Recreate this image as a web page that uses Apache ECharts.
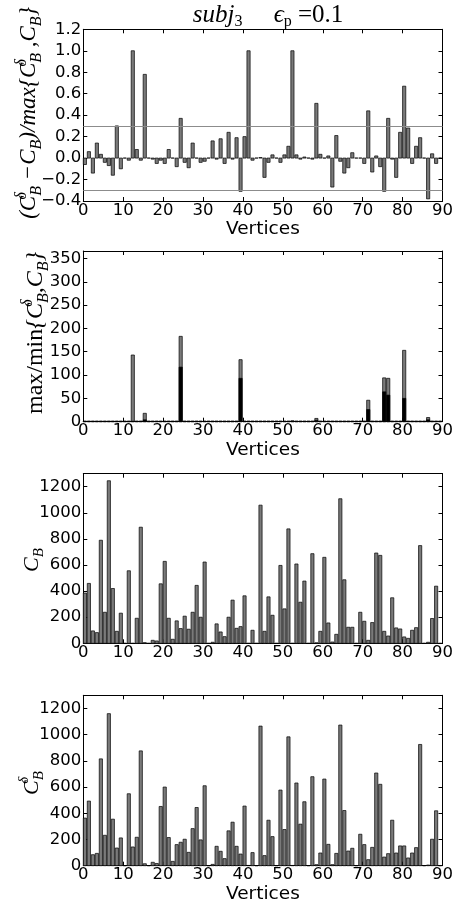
<!DOCTYPE html>
<html>
<head>
<meta charset="utf-8">
<script src="https://cdn.jsdelivr.net/npm/echarts@6/dist/echarts.min.js"></script>
<style>
html,body{margin:0;padding:0;background:#fff;}
#chart{width:469px;height:903px;}
</style>
</head>
<body>
<div id="chart"></div>
<script>
const vertices = [0,1,2,3,4,5,6,7,8,9,10,11,12,13,14,15,16,17,18,19,20,21,22,23,24,25,26,27,28,29,30,31,32,33,34,35,36,37,38,39,40,41,42,43,44,45,46,47,48,49,50,51,52,53,54,55,56,57,58,59,60,61,62,63,64,65,66,67,68,69,70,71,72,73,74,75,76,77,78,79,80,81,82,83,84,85,86,87,88,89];

const diffRatio = [
 -0.06, 0.06, -0.14, 0.14, 0.035, -0.04, -0.07, -0.16, 0.30, -0.10,
 0, -0.02, 1.0, 0.08, -0.02, 0.78, 0, -0.01, -0.05, -0.02,
 -0.05, 0.08, 0, -0.08, 0.37, -0.04, -0.09, 0.14, 0, -0.04,
 -0.03, 0, 0.16, -0.01, 0.18, -0.05, 0.24, -0.01, 0.19, -0.31,
 0.20, 1.0, -0.02, 0, 0.005, -0.18, -0.04, 0.03, 0, -0.04,
 0.03, 0.11, 1.0, 0.03, -0.01, 0.01, 0, -0.01, 0.51, 0.035,
 0, 0.02, -0.27, 0.21, -0.03, -0.14, -0.09, 0.05, 0, 0,
 -0.05, 0.44, -0.13, 0.02, -0.08, -0.31, 0.37, -0.01, -0.18, 0.24,
 0.67, 0.28, -0.05, 0.11, 0.19, 0, -0.38, 0.04, -0.05, 0
];
const thresholds = [0.3, -0.3];

const ratioMax = [
 1,1,1,1,1,1,1,1,1,1,
 1,1,143,1,1,18,1,1,1,1,
 1,1,1,1,183,1,1,1,1,1,
 1,1,1,1,1,1,1,1,1,133,
 1,1,1,1,1,1,1,1,1,1,
 1,1,2,1,1,1,1,1,7,1,
 1,1,1,1,1,1,1,1,1,1,
 1,46,1,1,1,94,93,1,1,1,
 153,1,1,1,1,1,9,1,1,1
];
const ratioMin = [
 1,1,1,1,1,1,1,1,1,1,
 1,1,1,1,1,4,1,1,1,1,
 1,1,1,1,117,1,1,1,1,1,
 1,1,1,1,1,1,1,1,1,93,
 1,1,1,1,1,1,1,1,1,1,
 1,1,1,1,1,1,1,1,3,1,
 1,1,1,1,1,1,1,1,1,1,
 1,26,1,1,1,64,57,1,1,1,
 50,1,1,1,1,1,4,1,1,1
];

const cb = [
 385,459,95,82,790,238,1246,420,92,231,
 0,556,0,192,890,5,0,23,18,456,
 628,192,31,172,113,208,108,238,444,200,
 623,0,8,149,87,51,200,331,115,128,
 364,0,100,0,1059,92,356,215,0,597,
 264,877,0,608,315,477,0,687,4,92,
 659,156,10,69,1108,487,123,123,0,238,
 169,23,159,692,674,92,56,349,118,110,
 49,38,100,120,749,0,8,190,438,0
];
const cbDelta = [
 363,493,84,94,815,232,1160,355,135,212,
 0,549,143,217,876,15,0,26,17,452,
 600,215,33,161,179,202,102,283,444,197,
 610,0,10,148,110,54,266,332,148,89,
 455,2,100,0,1065,77,347,222,0,577,
 276,983,2,631,317,488,0,679,8,97,
 661,163,8,94,1073,421,112,133,0,240,
 161,46,140,707,621,66,92,347,97,151,
 151,59,97,138,925,0,5,202,419,0
];

const BAR_W = 0.8;
const FONT = 'DejaVu Sans';
const SERIF = 'Liberation Serif, DejaVu Serif, serif';
const TICK_FS = 16.5;

const grids = [
  {left: 83.3, width: 359.2, top: 29.3, height: 171.7},
  {left: 83.3, width: 359.2, top: 251, height: 170.7},
  {left: 83.3, width: 359.2, top: 473.7, height: 169.6},
  {left: 83.3, width: 359.2, top: 695.3, height: 170.4}
];
const yRanges = [
  {min: -0.4, max: 1.2, interval: 0.2},
  {min: 0, max: 366, interval: 50},
  {min: 0, max: 1300, interval: 200},
  {min: 0, max: 1300, interval: 200}
];
const xNames = ['Vertices', 'Vertices', '', 'Vertices'];

function yFmt(k) {
  return function (v) {
    if (k === 0) {
      if (Math.abs(v) < 1e-9) return '0.0';
      return v.toFixed(1).replace('-', '\u2212');
    }
    if (Math.abs(v % yRanges[k].interval) > 1e-6) return '';
    return String(Math.round(v));
  };
}

const xAxes = [], yAxes = [];
grids.forEach((g, k) => {
  xAxes.push({
    type: 'value', gridIndex: k, min: 0, max: 90, interval: 10, position: 'bottom',
    name: xNames[k], nameLocation: 'middle', nameGap: 17,
    nameTextStyle: {fontFamily: FONT, fontSize: 18.5, color: '#000', verticalAlign: 'top'},
    axisLine: {show: true, onZero: false, lineStyle: {color: '#000', width: 1}},
    axisTick: {show: true, inside: true, length: 4, lineStyle: {color: '#000'}},
    axisLabel: {fontFamily: FONT, fontSize: TICK_FS, color: '#000', margin: 1},
    splitLine: {show: false}
  });
  xAxes.push({
    type: 'value', gridIndex: k, min: 0, max: 90, interval: 10, position: 'top',
    axisLine: {show: true, onZero: false, lineStyle: {color: '#000', width: 1}},
    axisTick: {show: true, inside: true, length: 4, lineStyle: {color: '#000'}},
    axisLabel: {show: false}, splitLine: {show: false}
  });
  const yr = yRanges[k];
  yAxes.push({
    type: 'value', gridIndex: k, min: yr.min, max: yr.max, interval: yr.interval, position: 'left',
    axisLine: {show: true, onZero: false, lineStyle: {color: '#000', width: 1}},
    axisTick: {show: true, inside: true, length: 4, lineStyle: {color: '#000'}},
    axisLabel: {fontFamily: FONT, fontSize: TICK_FS, color: '#000', margin: 2, formatter: yFmt(k)},
    splitLine: {show: false}
  });
  yAxes.push({
    type: 'value', gridIndex: k, min: yr.min, max: yr.max, interval: yr.interval, position: 'right',
    axisLine: {show: true, onZero: false, lineStyle: {color: '#000', width: 1}},
    axisTick: {show: true, inside: true, length: 4, lineStyle: {color: '#000'}},
    axisLabel: {show: false}, splitLine: {show: false}
  });
});

function barRender(fill) {
  return function (params, api) {
    const x = api.value(0), v = api.value(1);
    const p0 = api.coord([x, 0]);
    const p1 = api.coord([x + BAR_W, v]);
    return {
      type: 'rect',
      shape: {x: p0[0], y: Math.min(p0[1], p1[1]), width: p1[0] - p0[0], height: Math.abs(p1[1] - p0[1])},
      style: {fill: fill, stroke: '#000', lineWidth: 0.7}
    };
  };
}
function pairs(arr) { return vertices.map((v, i) => [v, arr[i]]); }

const GRAY = '#7a7a7a';
const series = [
  {type: 'custom', xAxisIndex: 0, yAxisIndex: 0, renderItem: barRender(GRAY), data: pairs(diffRatio),
   markLine: {silent: true, symbol: 'none', label: {show: false}, animation: false,
     lineStyle: {color: '#8c8c8c', width: 1, type: 'solid'},
     data: thresholds.map(t => ({yAxis: t}))}},
  {type: 'custom', xAxisIndex: 2, yAxisIndex: 2, renderItem: barRender(GRAY), data: pairs(ratioMax)},
  {type: 'custom', xAxisIndex: 2, yAxisIndex: 2, renderItem: barRender('#000'), data: pairs(ratioMin)},
  {type: 'custom', xAxisIndex: 4, yAxisIndex: 4, renderItem: barRender(GRAY), data: pairs(cb)},
  {type: 'custom', xAxisIndex: 6, yAxisIndex: 6, renderItem: barRender(GRAY), data: pairs(cbDelta)}
];

function richMath(fs) {
  const s = Math.round(fs * 0.68);
  const lh = Math.round(fs * 1.35);
  return {
    sup: {fontSize: s, lineHeight: Math.round(s * 0.8), verticalAlign: 'top', fontStyle: 'italic', fontFamily: SERIF, width: 0},
    sub: {fontSize: s, lineHeight: Math.round(s * 0.8), verticalAlign: 'bottom', fontStyle: 'italic', fontFamily: SERIF},
    r: {fontSize: fs, lineHeight: lh, fontStyle: 'normal', fontFamily: SERIF}
  };
}
function mathText(x, y, text, fs) {
  return {
    type: 'text', x: x, y: y, rotation: Math.PI / 2,
    style: {
      text: text, fontSize: fs, fontStyle: 'italic', fontFamily: SERIF, fill: '#000',
      align: 'center', verticalAlign: 'middle', textAlign: 'center', textVerticalAlign: 'middle',
      lineHeight: Math.round(fs * 1.35), rich: richMath(fs)
    }
  };
}

const graphic = [
  {
    type: 'text', x: 268, y: 15,
    style: {
      text: '{i|subj}{s|3}     {i|\u03f5}{s|p}{n| =0.1}',
      fontSize: 25, fontFamily: SERIF,
      fill: '#000', align: 'center', verticalAlign: 'middle', textAlign: 'center', textVerticalAlign: 'middle',
      rich: {
        i: {fontSize: 25, fontStyle: 'italic', fontFamily: SERIF, lineHeight: 30},
        n: {fontSize: 25, fontStyle: 'normal', fontFamily: SERIF, lineHeight: 30},
        s: {fontSize: 16, fontStyle: 'normal', fontFamily: SERIF, lineHeight: 14, verticalAlign: 'bottom'}
      }
    }
  },
  mathText(29, 113, '(C{sup|\u03b4}{sub|B} \u2212C{sub|B})/max{C{sup|\u03b4}{sub|B} ,C{sub|B}}', 23),
  mathText(36, 333, '{r|max/min}{C{sup|\u03b4}{sub|B},C{sub|B}}', 24),
  mathText(32, 560, 'C{sub|B}', 22),
  mathText(32, 783, 'C{sup|\u03b4}{sub|B}', 22)
];

const chart = echarts.init(document.getElementById('chart'), null, {renderer: 'canvas'});
chart.setOption({
  animation: false,
  backgroundColor: '#fff',
  grid: grids.map(g => Object.assign({containLabel: false, outerBoundsMode: 'none'}, g)),
  xAxis: xAxes,
  yAxis: yAxes,
  series: series,
  graphic: graphic
});
</script>
</body>
</html>
